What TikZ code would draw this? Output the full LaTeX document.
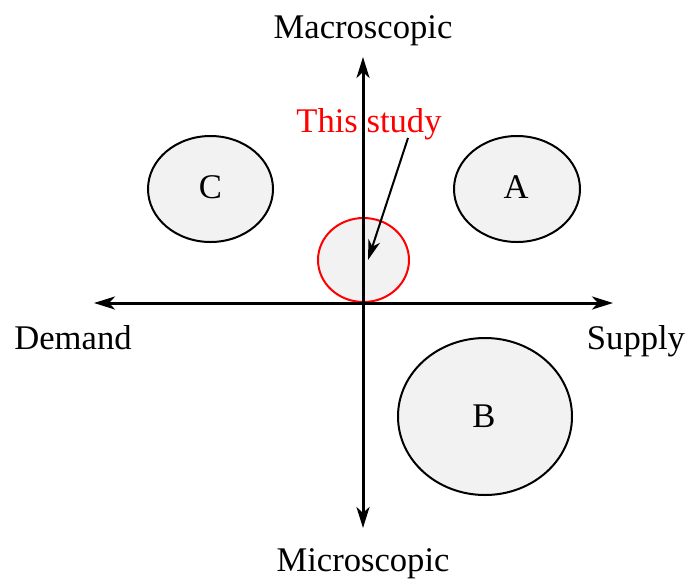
\documentclass[tikz,border=0pt]{standalone}
\usepackage{fontspec}
\setmainfont{Liberation Serif}
\usetikzlibrary{arrows.meta}
\begin{document}
\begin{tikzpicture}[x=0.5pt,y=-0.5pt,
  axis/.style={line width=1.5pt,-{Stealth[length=10.5pt,width=6.5pt,inset=3pt]}},
  lbl/.style={font=\fontsize{17.3}{20}\selectfont,inner sep=0pt,anchor=base}]
\useasboundingbox (0,0) rectangle (686,579);
\coordinate (O) at (363,303);
\coordinate (top) at (363,57);
\coordinate (bot) at (363,528);
\coordinate (lft) at (94,303);
\coordinate (rgt) at (613,303);
% blobs
\draw[line width=1pt,fill=gray!10] (210.5,189) ellipse [x radius=62.5,y radius=53];
\node[lbl] (C) at (210.5,198.5) {C};
\draw[line width=1pt,fill=gray!10] (517,189) ellipse [x radius=63,y radius=53];
\node[lbl] (A) at (516,198.5) {A};
\draw[line width=1pt,fill=gray!10] (485,416.5) ellipse [x radius=87,y radius=78.5];
\node[lbl] (B) at (484,427.5) {B};
\draw[line width=1pt,draw=red,fill=gray!10] (363.5,260) ellipse [x radius=45.5,y radius=42];
\coordinate (study) at (368,260);
% axes
\draw[axis] (O) -- (top);
\draw[axis] (O) -- (bot);
\draw[axis] (O) -- (lft);
\draw[axis] (O) -- (rgt);
\node[lbl] (macro) at (363,38) {Macroscopic};
\node[lbl] (micro) at (363,571) {Microscopic};
\node[lbl] (dem) at (73,349) {Demand};
\node[lbl] (sup) at (636,349) {Supply};
\node[lbl,text=red] (ts) at (369,132) {This study};
\coordinate (tsstart) at (408,138);
\draw[line width=1pt,-{Stealth[length=10pt,width=6pt,inset=3pt]}] (tsstart) -- (study);
\end{tikzpicture}
\end{document}
